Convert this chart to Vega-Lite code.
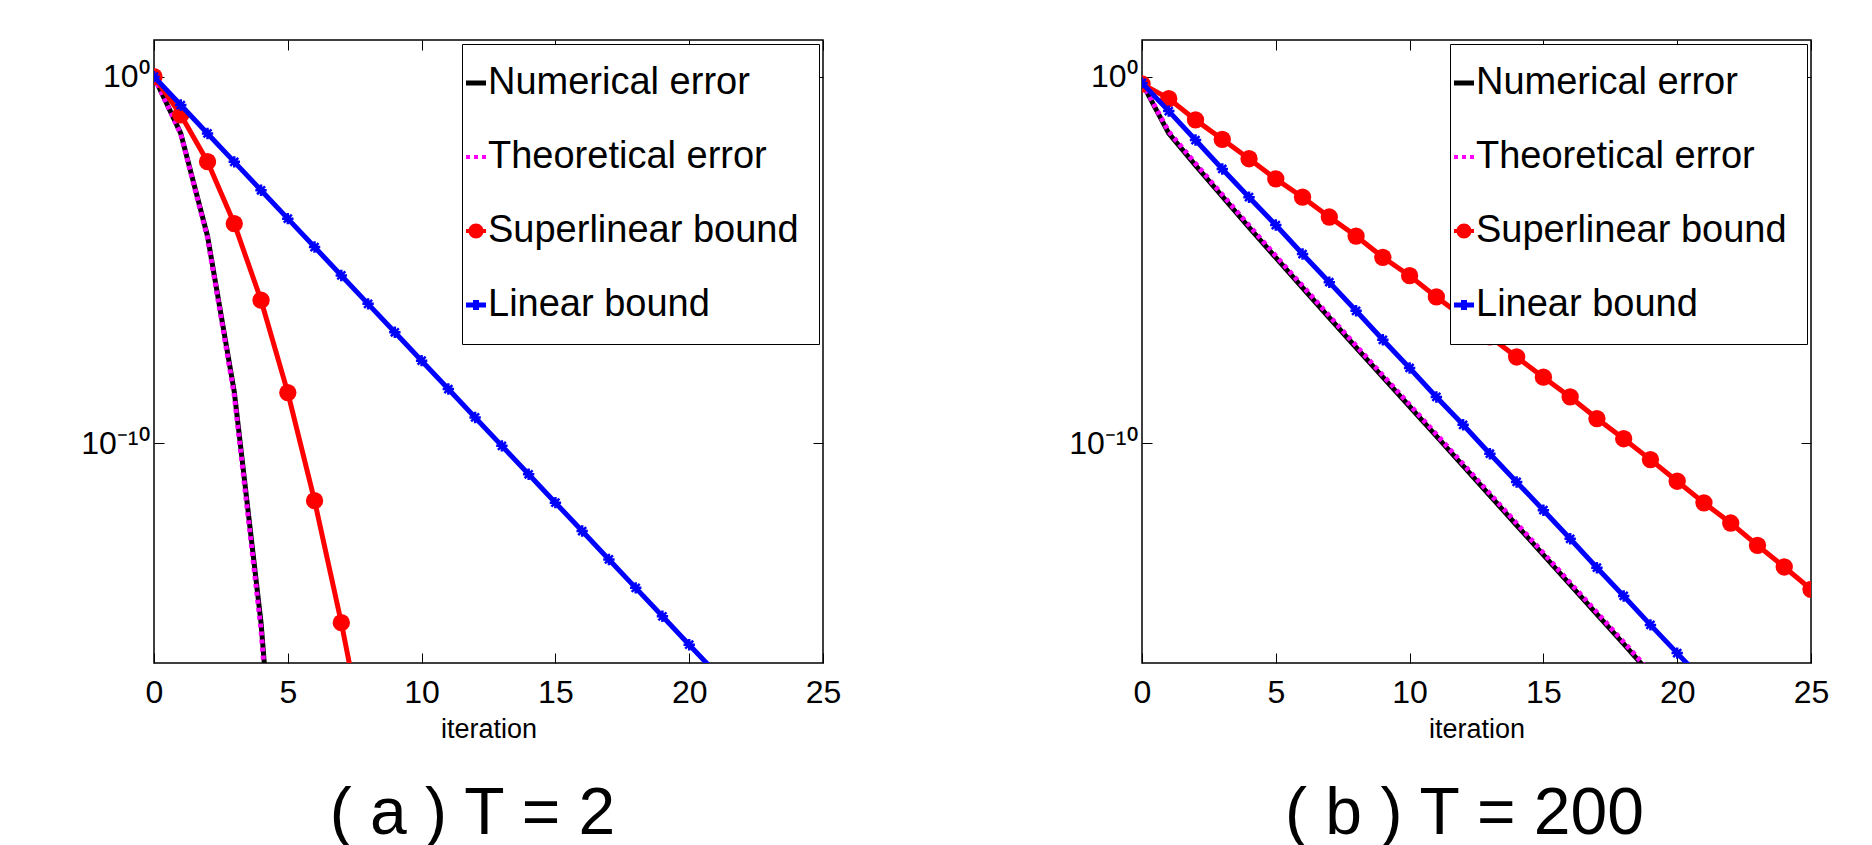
{
  "$schema": "https://vega.github.io/schema/vega-lite/v6.json",
  "padding": {"left": 80, "top": 38, "right": 5, "bottom": 0},
  "background": "white",
  "spacing": 319,
  "bounds": "flush",
  "config": {
    "view": {"stroke": "black", "strokeWidth": 1.5},
    "axis": {
      "grid": false, "domain": false, "tickColor": "black", "tickWidth": 1, "tickSize": -10,
      "labelFont": "Liberation Sans", "labelFontSize": 32, "labelColor": "black",
      "titleFont": "Liberation Sans", "titleFontSize": 27, "titleFontWeight": "normal", "titleColor": "black"
    },
    "legend": {
      "title": null, "orient": "top-right", "offset": 4, "fillColor": "white", "strokeColor": "black",
      "padding": 20, "rowPadding": 36, "labelOffset": -7, "symbolOffset": -25, "labelLimit": 600,
      "labelFont": "Liberation Sans", "labelFontSize": 38, "labelColor": "black",
      "symbolSize": 400, "symbolOpacity": 1, "symbolStrokeWidth": 0
    }
  },
  "datasets": {
    "d": [
      {"panel": "a", "series": "Numerical error", "iteration": 0, "error": 1},
      {"panel": "a", "series": "Numerical error", "iteration": 1, "error": 2.818e-2},
      {"panel": "a", "series": "Numerical error", "iteration": 2, "error": 4.467e-5},
      {"panel": "a", "series": "Numerical error", "iteration": 3, "error": 2.512e-9},
      {"panel": "a", "series": "Numerical error", "iteration": 4, "error": 1.259e-15},
      {"panel": "a", "series": "Numerical error", "iteration": 5, "error": 1e-24},
      {"panel": "a", "series": "Theoretical error", "iteration": 0, "error": 1},
      {"panel": "a", "series": "Theoretical error", "iteration": 1, "error": 2.692e-2},
      {"panel": "a", "series": "Theoretical error", "iteration": 2, "error": 3.981e-5},
      {"panel": "a", "series": "Theoretical error", "iteration": 3, "error": 1.995e-9},
      {"panel": "a", "series": "Theoretical error", "iteration": 4, "error": 7.943e-16},
      {"panel": "a", "series": "Theoretical error", "iteration": 5, "error": 5.012e-25},
      {"panel": "a", "series": "Superlinear bound", "iteration": 0, "error": 1},
      {"panel": "a", "series": "Superlinear bound", "iteration": 1, "error": 9.12e-2},
      {"panel": "a", "series": "Superlinear bound", "iteration": 2, "error": 4.786e-3},
      {"panel": "a", "series": "Superlinear bound", "iteration": 3, "error": 9.772e-5},
      {"panel": "a", "series": "Superlinear bound", "iteration": 4, "error": 7.943e-7},
      {"panel": "a", "series": "Superlinear bound", "iteration": 5, "error": 2.399e-9},
      {"panel": "a", "series": "Superlinear bound", "iteration": 6, "error": 2.692e-12},
      {"panel": "a", "series": "Superlinear bound", "iteration": 7, "error": 1.259e-15},
      {"panel": "a", "series": "Superlinear bound", "iteration": 8, "error": 2.512e-19},
      {"panel": "a", "series": "Linear bound", "iteration": 0, "error": 1},
      {"panel": "a", "series": "Linear bound", "iteration": 1, "error": 1.679e-1},
      {"panel": "a", "series": "Linear bound", "iteration": 2, "error": 2.818e-2},
      {"panel": "a", "series": "Linear bound", "iteration": 3, "error": 4.732e-3},
      {"panel": "a", "series": "Linear bound", "iteration": 4, "error": 7.943e-4},
      {"panel": "a", "series": "Linear bound", "iteration": 5, "error": 1.334e-4},
      {"panel": "a", "series": "Linear bound", "iteration": 6, "error": 2.239e-5},
      {"panel": "a", "series": "Linear bound", "iteration": 7, "error": 3.758e-6},
      {"panel": "a", "series": "Linear bound", "iteration": 8, "error": 6.31e-7},
      {"panel": "a", "series": "Linear bound", "iteration": 9, "error": 1.059e-7},
      {"panel": "a", "series": "Linear bound", "iteration": 10, "error": 1.778e-8},
      {"panel": "a", "series": "Linear bound", "iteration": 11, "error": 2.985e-9},
      {"panel": "a", "series": "Linear bound", "iteration": 12, "error": 5.012e-10},
      {"panel": "a", "series": "Linear bound", "iteration": 13, "error": 8.414e-11},
      {"panel": "a", "series": "Linear bound", "iteration": 14, "error": 1.413e-11},
      {"panel": "a", "series": "Linear bound", "iteration": 15, "error": 2.371e-12},
      {"panel": "a", "series": "Linear bound", "iteration": 16, "error": 3.981e-13},
      {"panel": "a", "series": "Linear bound", "iteration": 17, "error": 6.683e-14},
      {"panel": "a", "series": "Linear bound", "iteration": 18, "error": 1.122e-14},
      {"panel": "a", "series": "Linear bound", "iteration": 19, "error": 1.884e-15},
      {"panel": "a", "series": "Linear bound", "iteration": 20, "error": 3.162e-16},
      {"panel": "a", "series": "Linear bound", "iteration": 21, "error": 5.309e-17},
      {"panel": "b", "series": "Numerical error", "iteration": 0, "error": 6.761e-1},
      {"panel": "b", "series": "Numerical error", "iteration": 1, "error": 2.818e-2},
      {"panel": "b", "series": "Numerical error", "iteration": 2, "error": 3.802e-3},
      {"panel": "b", "series": "Numerical error", "iteration": 3, "error": 5.37e-4},
      {"panel": "b", "series": "Numerical error", "iteration": 4, "error": 7.762e-5},
      {"panel": "b", "series": "Numerical error", "iteration": 5, "error": 1.148e-5},
      {"panel": "b", "series": "Numerical error", "iteration": 6, "error": 1.738e-6},
      {"panel": "b", "series": "Numerical error", "iteration": 7, "error": 2.63e-7},
      {"panel": "b", "series": "Numerical error", "iteration": 8, "error": 4.074e-8},
      {"panel": "b", "series": "Numerical error", "iteration": 9, "error": 6.31e-9},
      {"panel": "b", "series": "Numerical error", "iteration": 10, "error": 1e-9},
      {"panel": "b", "series": "Numerical error", "iteration": 11, "error": 1.549e-10},
      {"panel": "b", "series": "Numerical error", "iteration": 12, "error": 2.399e-11},
      {"panel": "b", "series": "Numerical error", "iteration": 13, "error": 3.715e-12},
      {"panel": "b", "series": "Numerical error", "iteration": 14, "error": 5.754e-13},
      {"panel": "b", "series": "Numerical error", "iteration": 15, "error": 8.913e-14},
      {"panel": "b", "series": "Numerical error", "iteration": 16, "error": 1.38e-14},
      {"panel": "b", "series": "Numerical error", "iteration": 17, "error": 2.138e-15},
      {"panel": "b", "series": "Numerical error", "iteration": 18, "error": 3.311e-16},
      {"panel": "b", "series": "Numerical error", "iteration": 19, "error": 5.012e-17},
      {"panel": "b", "series": "Theoretical error", "iteration": 0, "error": 6.761e-1},
      {"panel": "b", "series": "Theoretical error", "iteration": 1, "error": 3.162e-2},
      {"panel": "b", "series": "Theoretical error", "iteration": 2, "error": 4.266e-3},
      {"panel": "b", "series": "Theoretical error", "iteration": 3, "error": 6.026e-4},
      {"panel": "b", "series": "Theoretical error", "iteration": 4, "error": 8.71e-5},
      {"panel": "b", "series": "Theoretical error", "iteration": 5, "error": 1.288e-5},
      {"panel": "b", "series": "Theoretical error", "iteration": 6, "error": 1.95e-6},
      {"panel": "b", "series": "Theoretical error", "iteration": 7, "error": 2.951e-7},
      {"panel": "b", "series": "Theoretical error", "iteration": 8, "error": 4.571e-8},
      {"panel": "b", "series": "Theoretical error", "iteration": 9, "error": 7.079e-9},
      {"panel": "b", "series": "Theoretical error", "iteration": 10, "error": 1.122e-9},
      {"panel": "b", "series": "Theoretical error", "iteration": 11, "error": 1.738e-10},
      {"panel": "b", "series": "Theoretical error", "iteration": 12, "error": 2.692e-11},
      {"panel": "b", "series": "Theoretical error", "iteration": 13, "error": 4.169e-12},
      {"panel": "b", "series": "Theoretical error", "iteration": 14, "error": 6.457e-13},
      {"panel": "b", "series": "Theoretical error", "iteration": 15, "error": 1e-13},
      {"panel": "b", "series": "Theoretical error", "iteration": 16, "error": 1.549e-14},
      {"panel": "b", "series": "Theoretical error", "iteration": 17, "error": 2.399e-15},
      {"panel": "b", "series": "Theoretical error", "iteration": 18, "error": 3.715e-16},
      {"panel": "b", "series": "Theoretical error", "iteration": 19, "error": 5.623e-17},
      {"panel": "b", "series": "Superlinear bound", "iteration": 0, "error": 6.31e-1},
      {"panel": "b", "series": "Superlinear bound", "iteration": 1, "error": 2.512e-1},
      {"panel": "b", "series": "Superlinear bound", "iteration": 2, "error": 6.607e-2},
      {"panel": "b", "series": "Superlinear bound", "iteration": 3, "error": 1.95e-2},
      {"panel": "b", "series": "Superlinear bound", "iteration": 4, "error": 5.754e-3},
      {"panel": "b", "series": "Superlinear bound", "iteration": 5, "error": 1.622e-3},
      {"panel": "b", "series": "Superlinear bound", "iteration": 6, "error": 5.129e-4},
      {"panel": "b", "series": "Superlinear bound", "iteration": 7, "error": 1.479e-4},
      {"panel": "b", "series": "Superlinear bound", "iteration": 8, "error": 4.467e-5},
      {"panel": "b", "series": "Superlinear bound", "iteration": 9, "error": 1.175e-5},
      {"panel": "b", "series": "Superlinear bound", "iteration": 10, "error": 3.715e-6},
      {"panel": "b", "series": "Superlinear bound", "iteration": 11, "error": 9.772e-7},
      {"panel": "b", "series": "Superlinear bound", "iteration": 12, "error": 2.818e-7},
      {"panel": "b", "series": "Superlinear bound", "iteration": 13, "error": 7.943e-8},
      {"panel": "b", "series": "Superlinear bound", "iteration": 14, "error": 2.239e-8},
      {"panel": "b", "series": "Superlinear bound", "iteration": 15, "error": 6.31e-9},
      {"panel": "b", "series": "Superlinear bound", "iteration": 16, "error": 1.82e-9},
      {"panel": "b", "series": "Superlinear bound", "iteration": 17, "error": 4.677e-10},
      {"panel": "b", "series": "Superlinear bound", "iteration": 18, "error": 1.318e-10},
      {"panel": "b", "series": "Superlinear bound", "iteration": 19, "error": 3.548e-11},
      {"panel": "b", "series": "Superlinear bound", "iteration": 20, "error": 9.12e-12},
      {"panel": "b", "series": "Superlinear bound", "iteration": 21, "error": 2.344e-12},
      {"panel": "b", "series": "Superlinear bound", "iteration": 22, "error": 6.607e-13},
      {"panel": "b", "series": "Superlinear bound", "iteration": 23, "error": 1.622e-13},
      {"panel": "b", "series": "Superlinear bound", "iteration": 24, "error": 4.169e-14},
      {"panel": "b", "series": "Superlinear bound", "iteration": 25, "error": 1.023e-14},
      {"panel": "b", "series": "Linear bound", "iteration": 0, "error": 6.761e-1},
      {"panel": "b", "series": "Linear bound", "iteration": 1, "error": 1.148e-1},
      {"panel": "b", "series": "Linear bound", "iteration": 2, "error": 1.862e-2},
      {"panel": "b", "series": "Linear bound", "iteration": 3, "error": 3.02e-3},
      {"panel": "b", "series": "Linear bound", "iteration": 4, "error": 5.129e-4},
      {"panel": "b", "series": "Linear bound", "iteration": 5, "error": 8.913e-5},
      {"panel": "b", "series": "Linear bound", "iteration": 6, "error": 1.445e-5},
      {"panel": "b", "series": "Linear bound", "iteration": 7, "error": 2.455e-6},
      {"panel": "b", "series": "Linear bound", "iteration": 8, "error": 4.074e-7},
      {"panel": "b", "series": "Linear bound", "iteration": 9, "error": 6.607e-8},
      {"panel": "b", "series": "Linear bound", "iteration": 10, "error": 1.122e-8},
      {"panel": "b", "series": "Linear bound", "iteration": 11, "error": 1.82e-9},
      {"panel": "b", "series": "Linear bound", "iteration": 12, "error": 3.162e-10},
      {"panel": "b", "series": "Linear bound", "iteration": 13, "error": 5.129e-11},
      {"panel": "b", "series": "Linear bound", "iteration": 14, "error": 8.71e-12},
      {"panel": "b", "series": "Linear bound", "iteration": 15, "error": 1.479e-12},
      {"panel": "b", "series": "Linear bound", "iteration": 16, "error": 2.455e-13},
      {"panel": "b", "series": "Linear bound", "iteration": 17, "error": 3.981e-14},
      {"panel": "b", "series": "Linear bound", "iteration": 18, "error": 6.761e-15},
      {"panel": "b", "series": "Linear bound", "iteration": 19, "error": 1.096e-15},
      {"panel": "b", "series": "Linear bound", "iteration": 20, "error": 1.862e-16},
      {"panel": "b", "series": "Linear bound", "iteration": 21, "error": 3.162e-17}
    ]
  },
  "hconcat": [
    {
      "width": 669, "height": 623,
      "title": {"text": "( a ) T = 2", "orient": "bottom", "anchor": "middle", "font": "Liberation Sans", "fontSize": 66, "fontWeight": "normal", "color": "black", "offset": 40, "dx": -16},
      "data": {"name": "d"},
      "transform": [{"filter": "datum.panel === 'a'"}],
      "layer": [
        {
          "transform": [{"filter": "datum.series === 'Numerical error'"}],
          "mark": {"type": "line", "strokeWidth": 5, "color": "black", "clip": true},
          "encoding": {
            "x": {"field": "iteration", "type": "quantitative", "scale": {"domain": [0, 25], "nice": false},
                  "axis": {"orient": "bottom", "values": [0, 5, 10, 15, 20, 25], "title": "iteration", "labelPadding": 24, "titlePadding": 8, "labelFlush": false, "labelOverlap": false, "format": "d"}},
            "y": {"field": "error", "type": "quantitative", "scale": {"type": "log", "domain": [1e-16, 10], "nice": false},
                  "axis": {"orient": "left", "values": [1e-10, 1], "labelExpr": "datum.value > 0.5 ? '10\u2070' : '10\u207b\u00b9\u2070'", "labelPadding": 15, "title": null, "labelFlush": false, "labelOverlap": false}}
          }
        },
        {
          "transform": [{"filter": "datum.series === 'Theoretical error'"}],
          "mark": {"type": "line", "strokeWidth": 5, "strokeDash": [4, 4], "color": "#ff00ff", "clip": true},
          "encoding": {
            "x": {"field": "iteration", "type": "quantitative", "scale": {"domain": [0, 25], "nice": false},
                  "axis": {"orient": "top", "values": [0, 5, 10, 15, 20, 25], "labels": false, "title": null}},
            "y": {"field": "error", "type": "quantitative", "scale": {"type": "log", "domain": [1e-16, 10], "nice": false},
                  "axis": {"orient": "right", "values": [1e-10, 1], "labels": false, "title": null}}
          }
        },
        {
          "transform": [{"filter": "datum.series === 'Superlinear bound'"}],
          "mark": {"type": "line", "strokeWidth": 5, "color": "red", "clip": true},
          "encoding": {
            "x": {"field": "iteration", "type": "quantitative", "scale": {"domain": [0, 25], "nice": false}, "axis": null},
            "y": {"field": "error", "type": "quantitative", "scale": {"type": "log", "domain": [1e-16, 10], "nice": false}, "axis": null}
          }
        },
        {
          "transform": [{"filter": "datum.series === 'Superlinear bound'"}],
          "mark": {"type": "point", "shape": "circle", "filled": true, "color": "red", "size": 300, "opacity": 1, "clip": true},
          "encoding": {
            "x": {"field": "iteration", "type": "quantitative", "scale": {"domain": [0, 25], "nice": false}, "axis": null},
            "y": {"field": "error", "type": "quantitative", "scale": {"type": "log", "domain": [1e-16, 10], "nice": false}, "axis": null}
          }
        },
        {
          "transform": [{"filter": "datum.series === 'Linear bound'"}],
          "mark": {"type": "line", "strokeWidth": 5, "color": "blue", "clip": true},
          "encoding": {
            "x": {"field": "iteration", "type": "quantitative", "scale": {"domain": [0, 25], "nice": false}, "axis": null},
            "y": {"field": "error", "type": "quantitative", "scale": {"type": "log", "domain": [1e-16, 10], "nice": false}, "axis": null}
          }
        },
        {
          "transform": [{"filter": "datum.series === 'Linear bound'"}],
          "mark": {"type": "point", "shape": "M-1,0H1M0,-1V1M-0.7,-0.7L0.7,0.7M-0.7,0.7L0.7,-0.7", "filled": false, "color": "blue", "strokeWidth": 2.5, "size": 130, "opacity": 1, "clip": true},
          "encoding": {
            "x": {"field": "iteration", "type": "quantitative", "scale": {"domain": [0, 25], "nice": false}, "axis": null},
            "y": {"field": "error", "type": "quantitative", "scale": {"type": "log", "domain": [1e-16, 10], "nice": false}, "axis": null}
          }
        },
        {
          "transform": [{"filter": "datum.iteration === 0"}],
          "mark": {"type": "point", "filled": true, "opacity": 0, "size": 400},
          "encoding": {
            "x": {"field": "iteration", "type": "quantitative", "scale": {"domain": [0, 25], "nice": false}, "axis": null},
            "y": {"field": "error", "type": "quantitative", "scale": {"type": "log", "domain": [1e-16, 10], "nice": false}, "axis": null},
            "color": {"field": "series", "type": "nominal",
                      "scale": {"domain": ["Numerical error", "Theoretical error", "Superlinear bound", "Linear bound"], "range": ["black", "#ff00ff", "red", "blue"]},
                      "legend": {"title": null}},
            "shape": {"field": "series", "type": "nominal",
                      "scale": {"domain": ["Numerical error", "Theoretical error", "Superlinear bound", "Linear bound"],
                                "range": ["M-1,-0.25H1V0.25H-1Z", "M-1,-0.2H-0.6V0.2H-1Z M-0.2,-0.2H0.2V0.2H-0.2Z M0.6,-0.2H1V0.2H0.6Z", "M-1,-0.2H1V0.2H-1Z M-0.75,0A0.75,0.75,0,1,1,0.75,0A0.75,0.75,0,1,1,-0.75,0Z", "M-1,-0.25H1V0.25H-1Z M-0.3,-0.5H0.3V0.5H-0.3Z"]},
                      "legend": {"title": null}}
          }
        }
      ]
    },
    {
      "width": 669, "height": 623,
      "title": {"text": "( b ) T = 200", "orient": "bottom", "anchor": "middle", "font": "Liberation Sans", "fontSize": 66, "fontWeight": "normal", "color": "black", "offset": 40, "dx": -12},
      "data": {"name": "d"},
      "transform": [{"filter": "datum.panel === 'b'"}],
      "layer": [
        {
          "transform": [{"filter": "datum.series === 'Numerical error'"}],
          "mark": {"type": "line", "strokeWidth": 5, "color": "black", "clip": true},
          "encoding": {
            "x": {"field": "iteration", "type": "quantitative", "scale": {"domain": [0, 25], "nice": false},
                  "axis": {"orient": "bottom", "values": [0, 5, 10, 15, 20, 25], "title": "iteration", "labelPadding": 24, "titlePadding": 8, "labelFlush": false, "labelOverlap": false, "format": "d"}},
            "y": {"field": "error", "type": "quantitative", "scale": {"type": "log", "domain": [1e-16, 10], "nice": false},
                  "axis": {"orient": "left", "values": [1e-10, 1], "labelExpr": "datum.value > 0.5 ? '10\u2070' : '10\u207b\u00b9\u2070'", "labelPadding": 15, "title": null, "labelFlush": false, "labelOverlap": false}}
          }
        },
        {
          "transform": [{"filter": "datum.series === 'Theoretical error'"}],
          "mark": {"type": "line", "strokeWidth": 5, "strokeDash": [4, 4], "color": "#ff00ff", "clip": true},
          "encoding": {
            "x": {"field": "iteration", "type": "quantitative", "scale": {"domain": [0, 25], "nice": false},
                  "axis": {"orient": "top", "values": [0, 5, 10, 15, 20, 25], "labels": false, "title": null}},
            "y": {"field": "error", "type": "quantitative", "scale": {"type": "log", "domain": [1e-16, 10], "nice": false},
                  "axis": {"orient": "right", "values": [1e-10, 1], "labels": false, "title": null}}
          }
        },
        {
          "transform": [{"filter": "datum.series === 'Superlinear bound'"}],
          "mark": {"type": "line", "strokeWidth": 5, "color": "red", "clip": true},
          "encoding": {
            "x": {"field": "iteration", "type": "quantitative", "scale": {"domain": [0, 25], "nice": false}, "axis": null},
            "y": {"field": "error", "type": "quantitative", "scale": {"type": "log", "domain": [1e-16, 10], "nice": false}, "axis": null}
          }
        },
        {
          "transform": [{"filter": "datum.series === 'Superlinear bound'"}],
          "mark": {"type": "point", "shape": "circle", "filled": true, "color": "red", "size": 300, "opacity": 1, "clip": true},
          "encoding": {
            "x": {"field": "iteration", "type": "quantitative", "scale": {"domain": [0, 25], "nice": false}, "axis": null},
            "y": {"field": "error", "type": "quantitative", "scale": {"type": "log", "domain": [1e-16, 10], "nice": false}, "axis": null}
          }
        },
        {
          "transform": [{"filter": "datum.series === 'Linear bound'"}],
          "mark": {"type": "line", "strokeWidth": 5, "color": "blue", "clip": true},
          "encoding": {
            "x": {"field": "iteration", "type": "quantitative", "scale": {"domain": [0, 25], "nice": false}, "axis": null},
            "y": {"field": "error", "type": "quantitative", "scale": {"type": "log", "domain": [1e-16, 10], "nice": false}, "axis": null}
          }
        },
        {
          "transform": [{"filter": "datum.series === 'Linear bound'"}],
          "mark": {"type": "point", "shape": "M-1,0H1M0,-1V1M-0.7,-0.7L0.7,0.7M-0.7,0.7L0.7,-0.7", "filled": false, "color": "blue", "strokeWidth": 2.5, "size": 130, "opacity": 1, "clip": true},
          "encoding": {
            "x": {"field": "iteration", "type": "quantitative", "scale": {"domain": [0, 25], "nice": false}, "axis": null},
            "y": {"field": "error", "type": "quantitative", "scale": {"type": "log", "domain": [1e-16, 10], "nice": false}, "axis": null}
          }
        },
        {
          "transform": [{"filter": "datum.iteration === 0"}],
          "mark": {"type": "point", "filled": true, "opacity": 0, "size": 400},
          "encoding": {
            "x": {"field": "iteration", "type": "quantitative", "scale": {"domain": [0, 25], "nice": false}, "axis": null},
            "y": {"field": "error", "type": "quantitative", "scale": {"type": "log", "domain": [1e-16, 10], "nice": false}, "axis": null},
            "color": {"field": "series", "type": "nominal",
                      "scale": {"domain": ["Numerical error", "Theoretical error", "Superlinear bound", "Linear bound"], "range": ["black", "#ff00ff", "red", "blue"]},
                      "legend": {"title": null}},
            "shape": {"field": "series", "type": "nominal",
                      "scale": {"domain": ["Numerical error", "Theoretical error", "Superlinear bound", "Linear bound"],
                                "range": ["M-1,-0.25H1V0.25H-1Z", "M-1,-0.2H-0.6V0.2H-1Z M-0.2,-0.2H0.2V0.2H-0.2Z M0.6,-0.2H1V0.2H0.6Z", "M-1,-0.2H1V0.2H-1Z M-0.75,0A0.75,0.75,0,1,1,0.75,0A0.75,0.75,0,1,1,-0.75,0Z", "M-1,-0.25H1V0.25H-1Z M-0.3,-0.5H0.3V0.5H-0.3Z"]},
                      "legend": {"title": null}}
          }
        }
      ],
      "resolve": {"scale": {"color": "independent", "shape": "independent"}}
    }
  ],
  "resolve": {"scale": {"color": "independent", "shape": "independent"}, "legend": {"color": "independent", "shape": "independent"}}
}
